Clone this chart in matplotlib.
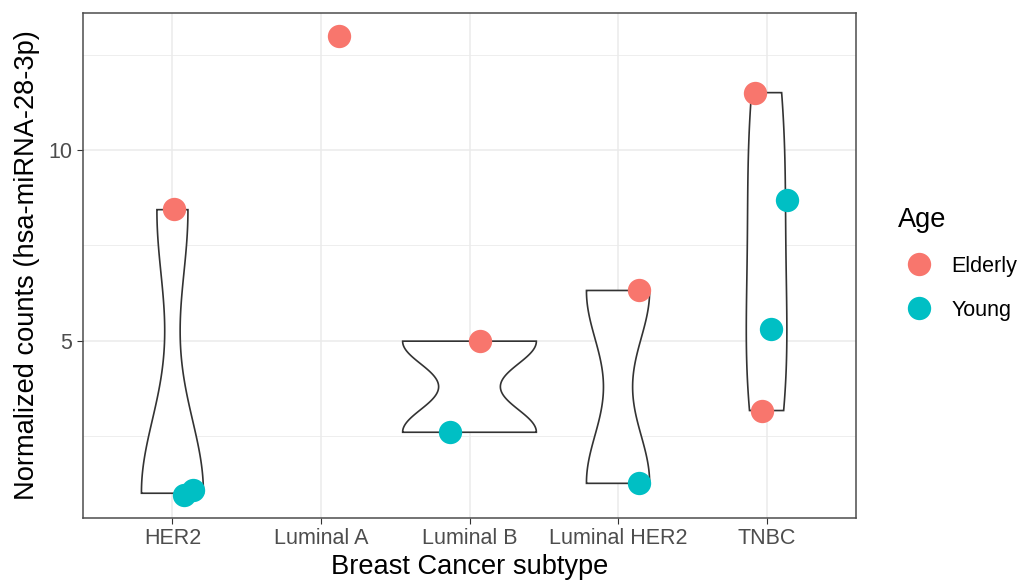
import numpy as np
import matplotlib
matplotlib.use("Agg")
import matplotlib.pyplot as plt

# miR-28-3p normalized counts per sample
subtypes = ["HER2", "Luminal A", "Luminal B", "Luminal HER2", "TNBC"]
sample_subtype = ["HER2", "HER2", "HER2", "Luminal A", "Luminal B", "Luminal B",
                  "Luminal HER2", "Luminal HER2", "TNBC", "TNBC", "TNBC", "TNBC"]
sample_age = ["Elderly", "Young", "Young", "Elderly", "Elderly", "Young",
              "Elderly", "Young", "Elderly", "Young", "Young", "Elderly"]
counts = [8.44, 1.00, 1.04, 12.99, 4.99, 2.60, 6.32, 1.26, 11.51, 8.69, 5.32, 3.17]

# fixed jitter offsets for the points
jitter_x = [0.01, 0.08, 0.14, 0.12, 0.07, -0.13, 0.14, 0.14, -0.08, 0.14, 0.03, -0.03]
jitter_y = [0.02, -0.04, 0.05, 0.0, 0.0, 0.0, 0.0, 0.0, 0.0, 0.0, 0.0, -0.01]

age_levels = ["Elderly", "Young"]
age_colors = {"Elderly": "#F8766D", "Young": "#00BFC4"}

plt.rcParams['font.family'] = ['Liberation Sans', 'DejaVu Sans']


def kde_trimmed(vals, n=512):
    # gaussian kde with R's nrd0 bandwidth, evaluated over the data range
    v = np.asarray(vals, dtype=float)
    sd = v.std(ddof=1)
    q75, q25 = np.percentile(v, [75, 25])
    bw = 0.9 * min(sd, (q75 - q25) / 1.34) * len(v) ** -0.2
    y = np.linspace(v.min(), v.max(), n)
    z = (y[:, None] - v[None, :]) / bw
    dens = np.exp(-0.5 * z ** 2).sum(axis=1) / (len(v) * bw * np.sqrt(2 * np.pi))
    return y, dens


counts = np.array(counts)
sub_arr = np.array(sample_subtype)
age_arr = np.array(sample_age)

fig = plt.figure(figsize=(10.23, 5.82), dpi=100)
W, H = 1023, 582
ax = fig.add_axes([83.3 / W, 1 - 517.7 / H, (855.7 - 83.3) / W, (517.7 - 13.3) / H])

# violins (scale = "area": shared density scale, max width 0.9)
dens_list = []
for s in subtypes:
    v = counts[sub_arr == s]
    if len(v) < 2:
        dens_list.append(None)
        continue
    dens_list.append(kde_trimmed(v))
dmax = max(d[1].max() for d in dens_list if d is not None)

for i, d in enumerate(dens_list):
    if d is None:
        continue
    y, dens = d
    half = 0.45 * dens / dmax
    xs = np.concatenate([i - half, (i + half)[::-1], [i - half[0]]])
    ys = np.concatenate([y, y[::-1], [y[0]]])
    ax.fill(xs, ys, facecolor="white", edgecolor="#333333", lw=1.2, zorder=2)

# jittered points
xpos = np.array([subtypes.index(s) for s in sample_subtype]) + np.array(jitter_x)
ypos = counts + np.array(jitter_y)
for age in age_levels:
    m = age_arr == age
    ax.plot(xpos[m], ypos[m], 'o', ms=16.8, mew=0, color=age_colors[age],
            label=age, zorder=3)

# limits with 5% expansion like ggplot
lo, hi = ypos.min(), ypos.max()
pad = 0.05 * (hi - lo)
ax.set_ylim(lo - pad, hi + pad)
ax.set_xlim(-0.6, len(subtypes) - 0.4)

ax.set_xticks(range(len(subtypes)))
ax.set_xticklabels(subtypes)
ax.set_yticks([5, 10])
ax.set_yticks([2.5, 7.5, 12.5], minor=True)
ax.grid(True, which="major", color="#EBEBEB", lw=1.1, zorder=0)
ax.grid(True, which="minor", axis="y", color="#EBEBEB", lw=0.6, zorder=0)
ax.set_axisbelow(True)

ax.tick_params(axis="both", which="major", length=4.5, width=0.8, color="#333333",
               labelsize=15.5, labelcolor="#4D4D4D")
ax.tick_params(axis="x", pad=3)
ax.tick_params(axis="y", pad=3.5)
ax.tick_params(which="minor", length=0)
for sp in ax.spines.values():
    sp.set_color("#4D4D4D")
    sp.set_linewidth(1.1)

ax.set_xlabel("Breast Cancer subtype", fontsize=19.6, labelpad=3.5)
ax.set_ylabel("Normalized counts (hsa-miRNA-28-3p)", fontsize=19.6, labelpad=6)

leg = ax.legend(title="Age", loc="center left", bbox_to_anchor=(887 / W, 1 - 264 / H),
                bbox_transform=fig.transFigure, frameon=False, fontsize=15.5,
                title_fontsize=19.6, handlelength=2.0, handletextpad=0.5,
                labelspacing=1.05, borderpad=0, alignment="left")

fig.savefig("out.png", dpi=100)
